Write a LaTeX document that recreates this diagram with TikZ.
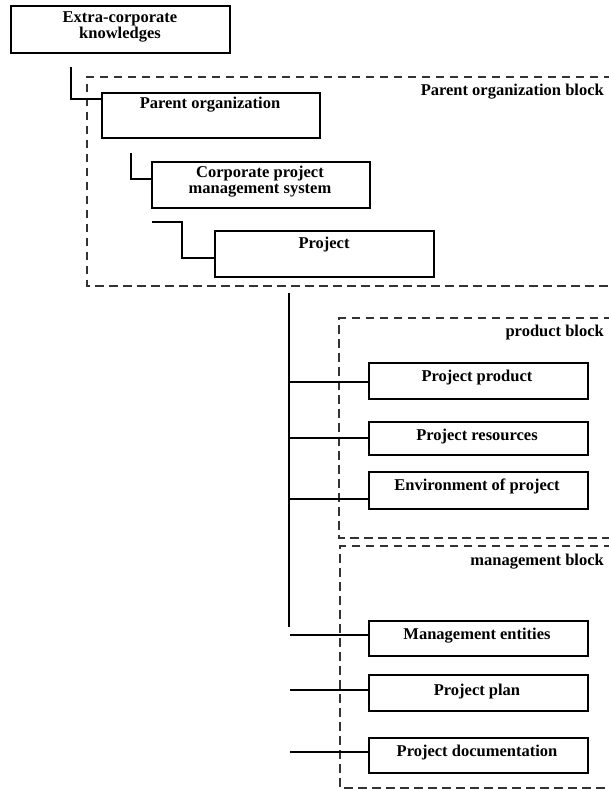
\documentclass[tikz,border=0pt]{standalone}
\usepackage{fontspec}
\setmainfont{Liberation Serif}
\usetikzlibrary{calc}
\begin{document}
\begin{tikzpicture}[x=1pt,y=-1pt,
  box/.style={draw,line width=2pt,inner sep=0pt,anchor=north west},
  txt/.style={font=\fontsize{16.5}{15}\selectfont\bfseries,inner sep=0pt,align=center},
  link/.style={line width=1.3pt},
  zone/.style={line width=1.9pt,dash pattern=on 8.5pt off 5.5pt,black!80},
  zonelbl/.style={font=\fontsize{16.5}{15}\selectfont\bfseries,inner sep=0pt,anchor=base east}]
\useasboundingbox (0,0) rectangle (608,791);
\fill[white] (0,0) rectangle (608,791);

% dashed grouping blocks (open on the right side)
\draw[zone] (612,77) -- (87,77) -- (87,286) -- (612,286);
\draw[zone] (612,318) -- (339,318) -- (339,538) -- (612,538);
\draw[zone] (612,546) -- (340,546) -- (340,788) -- (612,788);
\node[zonelbl] (lblpo) at (604,96) {Parent organization block};
\node[zonelbl] (lblpr) at (604,336) {product block};
\node[zonelbl] (lblmg) at (604,565) {management block};

% boxes
\node[box,minimum width=219pt,minimum height=47pt] (ext)  at (10,5)   {};
\node[box,minimum width=218pt,minimum height=45pt] (porg) at (101,92) {};
\node[box,minimum width=218pt,minimum height=46pt] (cpms) at (151,161) {};
\node[box,minimum width=219pt,minimum height=46pt] (proj) at (214,230) {};
\node[box,minimum width=219pt,minimum height=36pt] (prod) at (368,362) {};
\node[box,minimum width=219pt,minimum height=33pt] (res)  at (368,421) {};
\node[box,minimum width=219pt,minimum height=37pt] (env)  at (368,471) {};
\node[box,minimum width=219pt,minimum height=35pt] (ment) at (368,620) {};
\node[box,minimum width=219pt,minimum height=36pt] (plan) at (368,674) {};
\node[box,minimum width=219pt,minimum height=35pt] (docs) at (368,737) {};

% box texts
\node[txt,font=\fontsize{16.5}{13}\selectfont\bfseries] (ext-t) at (120,27) {Extra-corporate\\knowledges};
\node[txt,anchor=base] (porg-t) at (210,109) {Parent organization};
\node[txt,font=\fontsize{16.5}{16}\selectfont\bfseries] (cpms-t) at (260,182) {Corporate project\\management system};
\node[txt,anchor=base] (proj-t) at (324,249) {Project};
\node[txt,anchor=base] (prod-t) at (477,381) {Project product};
\node[txt,anchor=base] (res-t)  at (477,440) {Project resources};
\node[txt,anchor=base] (env-t)  at (477,490) {Environment of project};
\node[txt,anchor=base] (ment-t) at (477,639) {Management entities};
\node[txt,anchor=base] (plan-t) at (477,695) {Project plan};
\node[txt,anchor=base] (docs-t) at (477,756) {Project documentation};

% hierarchy connectors
\coordinate (c1) at (71,67);
\coordinate (c2) at (131,153);
\coordinate (c3) at (152,222);
\draw[link] (c1) |- ($(porg.north west)+(0,7)$);
\draw[link] (c2) |- ($(cpms.north west)+(0,18)$);
\draw[link] (c3) -- ++(30,0) |- ($(proj.north west)+(0,28)$);

% trunk and branches
\coordinate (t1) at (289,293);
\coordinate (t2) at (289,627);
\draw[link] (t1) -- (t2);
\draw[link] (t1 |- prod.north) ++(0,20) coordinate (b1) (b1) -- ($(prod.north west)+(0,20)$);
\draw[link] (t1 |- res.north)  ++(0,17) coordinate (b2) (b2) -- ($(res.north west)+(0,17)$);
\draw[link] (t1 |- env.north)  ++(0,28) coordinate (b3) (b3) -- ($(env.north west)+(0,28)$);
\coordinate (f1) at (290,635);
\coordinate (f2) at (290,690);
\coordinate (f3) at (290,752);
\draw[link] (f1) -- (ment.west |- f1);
\draw[link] (f2) -- (plan.west |- f2);
\draw[link] (f3) -- (docs.west |- f3);
\end{tikzpicture}
\end{document}
